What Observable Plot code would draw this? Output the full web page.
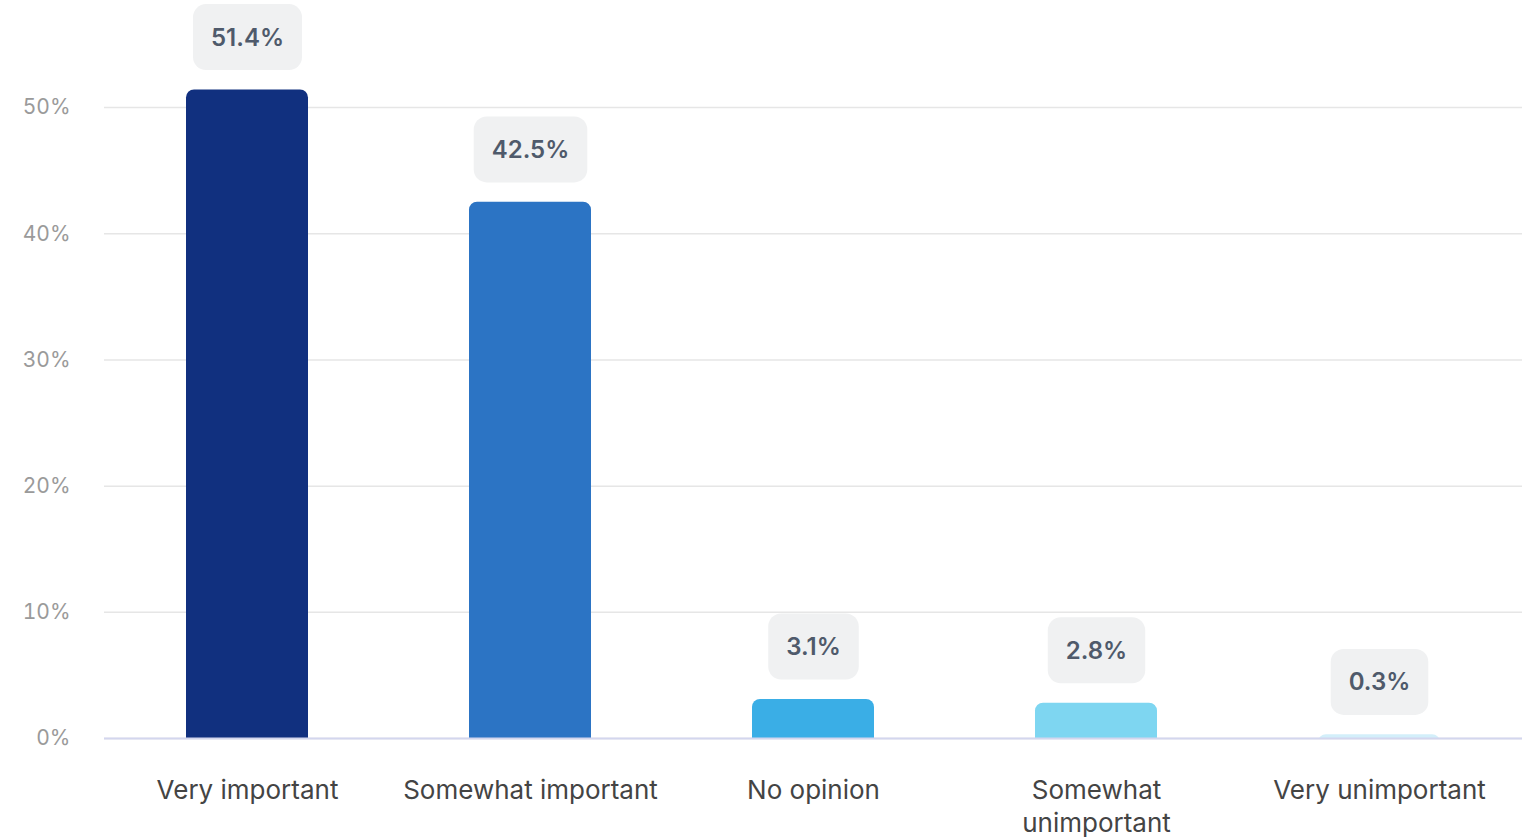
<!DOCTYPE html>
<html>
<head>
<meta charset="utf-8">
<script src="https://cdn.jsdelivr.net/npm/d3@7"></script>
<script src="https://cdn.jsdelivr.net/npm/@observablehq/plot@0.6"></script>
<style>
  html, body { margin: 0; padding: 0; background: #fff; }
  svg { display: block; }
</style>
</head>
<body>
<div id="chart"></div>
<script>
const categories = ["Very important", "Somewhat important", "No opinion", "Somewhat unimportant", "Very unimportant"];
const values = [51.4, 42.5, 3.1, 2.8, 0.3];
const valueLabels = ["51.4%", "42.5%", "3.1%", "2.8%", "0.3%"];
const yTicks = [0, 10, 20, 30, 40, 50];
const palette = ["#11307f", "#2c74c4", "#3aaee6", "#7ed6f1", "#d3effa"];

const data = categories.map((c, i) => ({category: c, value: values[i], label: valueLabels[i]}));

const chart = Plot.plot({
  width: 1526,
  height: 839,
  marginLeft: 104,
  marginRight: 4,
  marginTop: 44,
  marginBottom: 101,
  style: {fontFamily: "Inter, 'Noto Sans', sans-serif", background: "#fff"},
  x: {domain: categories, paddingInner: 0.57, paddingOuter: 0.285, align: 0.5},
  y: {domain: [0, 55]},
  color: {domain: categories, range: palette},
  marks: [
    Plot.gridY(yTicks, {stroke: "#e6e6e6", strokeOpacity: 1, strokeWidth: 1.5}),
    Plot.axisY(yTicks, {
      tickSize: 0, tickPadding: 34, fontSize: 21, fill: "#9a9a9a",
      tickFormat: d => d + "%", label: null
    }),
    Plot.axisX({
      tickSize: 0, tickPadding: 37, fontSize: 26, fill: "#444",
      lineAnchor: "top", lineHeight: 1.27, label: null,
      tickFormat: d => d === "Somewhat unimportant" ? "Somewhat\nunimportant" : d
    }),
    Plot.barY(data, {x: "category", y: "value", fill: "category", rx: 8, insetBottom: -12, clip: true}),
    Plot.ruleY([0], {stroke: "#d3d6ee", strokeWidth: 2}),
    Plot.text(data, {
      x: "category", y: "value", text: "label", dy: -52,
      fontSize: 24, fontWeight: 600, fill: "#4f5a6b", lineAnchor: "middle",
      className: "vlabel"
    })
  ]
});

document.getElementById("chart").append(chart);

// Rounded label boxes behind value labels, sized from the rendered text
const svgNS = "http://www.w3.org/2000/svg";
chart.querySelectorAll(".vlabel text").forEach(t => {
  const bb = t.getBBox();
  const padX = 18, h = 66;
  const r = document.createElementNS(svgNS, "rect");
  const cy = bb.y + bb.height / 2;
  r.setAttribute("x", bb.x - padX);
  r.setAttribute("y", cy - h / 2);
  r.setAttribute("width", bb.width + 2 * padX);
  r.setAttribute("height", h);
  r.setAttribute("rx", 13);
  r.setAttribute("fill", "#f0f1f2");
  const tr = t.getAttribute("transform");
  if (tr) r.setAttribute("transform", tr);
  t.parentNode.insertBefore(r, t);
});
</script>
</body>
</html>
